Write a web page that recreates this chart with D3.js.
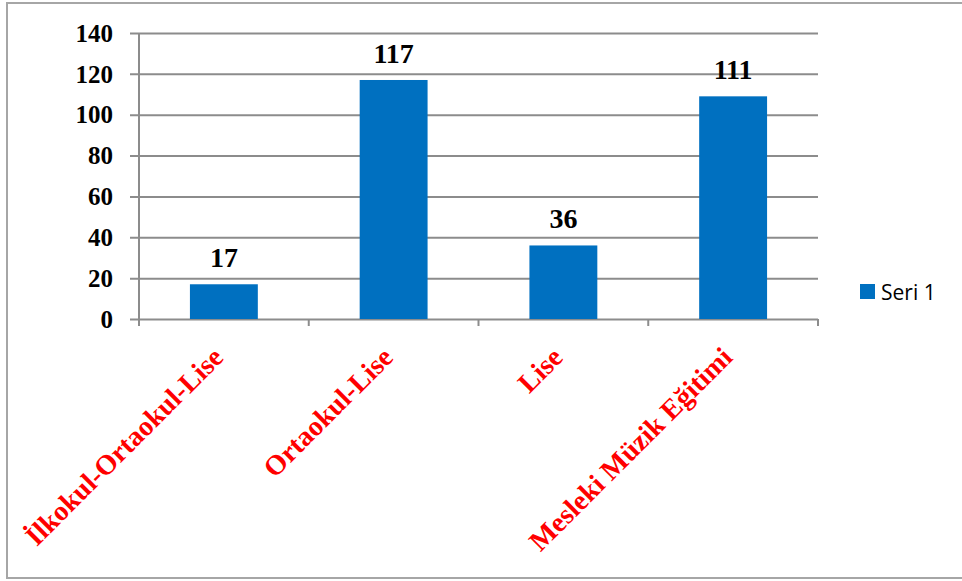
<!DOCTYPE html>
<html><head><meta charset="utf-8">
<script src="https://cdn.jsdelivr.net/npm/d3@7"></script>
<style>body{margin:0;background:#fff;}svg{display:block;}</style>
</head><body><svg id="c" width="962" height="581"></svg>
<script>
const categories = ["İlkokul-Ortaokul-Lise", "Ortaokul-Lise", "Lise", "Mesleki Müzik Eğitimi"];
const values = [17, 117, 36, 109];
const valueLabels = ["17", "117", "36", "111"];
const yTicks = [0, 20, 40, 60, 80, 100, 120, 140];
const seriesName = "Seri 1";

(function () {
const svg = d3.select("#c");
const pL = 139, pR = 818, pT = 33, pB = 319;
const barColor = "#0070C0";
const gridColor = "#8c8c8c";
const serif = "'Liberation Serif', 'Times New Roman', serif";

// outer frame
svg.append("rect").attr("x", 7).attr("y", 3).attr("width", 980).attr("height", 575)
  .attr("fill", "#fff").attr("stroke", "#a6a6a6").attr("stroke-width", 2);

const x = d3.scaleBand().domain(categories).range([pL, pR]).paddingInner(0.6).paddingOuter(0.3);
const y = d3.scaleLinear().domain([0, 140]).range([pB, pT]);

// gridlines + y axis
const yAxis = d3.axisLeft(y).tickValues(yTicks).tickSize(-(pR - pL)).tickSizeOuter(0).tickPadding(26);
const gy = svg.append("g").attr("transform", `translate(${pL},0)`).call(yAxis);
gy.select(".domain").remove();
gy.selectAll(".tick line").attr("stroke", gridColor).attr("stroke-width", 2).attr("x1", -9);
gy.selectAll(".tick text").attr("font-family", serif)
  .attr("font-weight", "bold").attr("font-size", 25).attr("fill", "#000").attr("dy", "0.33em");
// vertical axis line
svg.append("line").attr("x1", pL).attr("x2", pL).attr("y1", pT).attr("y2", pB + 7)
  .attr("stroke", gridColor).attr("stroke-width", 2);

// category boundary ticks
const bounds = categories.map(c => x(c) - x.step() * x.paddingInner() / 2).concat([pR]);
svg.selectAll(".ctick").data(bounds.slice(1)).join("line")
  .attr("x1", d => d).attr("x2", d => d).attr("y1", pB).attr("y2", pB + 7)
  .attr("stroke", gridColor).attr("stroke-width", 2);

// bars
svg.selectAll(".bar").data(values).join("rect")
  .attr("x", (d, i) => x(categories[i])).attr("width", x.bandwidth())
  .attr("y", d => y(d)).attr("height", d => y(0) - y(d)).attr("fill", barColor);

// value labels
svg.selectAll(".vl").data(values).join("text")
  .attr("x", (d, i) => x(categories[i]) + x.bandwidth() / 2)
  .attr("y", (d, i) => y(d) - 17)
  .attr("text-anchor", "middle")
  .attr("font-family", serif)
  .attr("font-weight", "bold").attr("font-size", 28).attr("fill", "#000")
  .text((d, i) => valueLabels[i]);

// category labels
svg.selectAll(".cl").data(categories).join("text")
  .attr("transform", d => `translate(${x(d) + x.bandwidth() / 2 + 1},${pB + 40}) rotate(-45)`)
  .attr("text-anchor", "end")
  .attr("font-family", serif)
  .attr("font-weight", "bold").attr("font-size", 28).attr("fill", "#ff0000")
  .text(d => d);

// legend
const lg = svg.append("g").attr("transform", "translate(860,284)");
lg.append("rect").attr("width", 15).attr("height", 15).attr("fill", barColor);
lg.append("text").attr("x", 21).attr("y", 8).attr("dy", "0.36em")
  .attr("font-family", "'Open Sans', sans-serif").attr("font-size", 21).attr("fill", "#000")
  .text(seriesName);
})();
</script></body></html>
